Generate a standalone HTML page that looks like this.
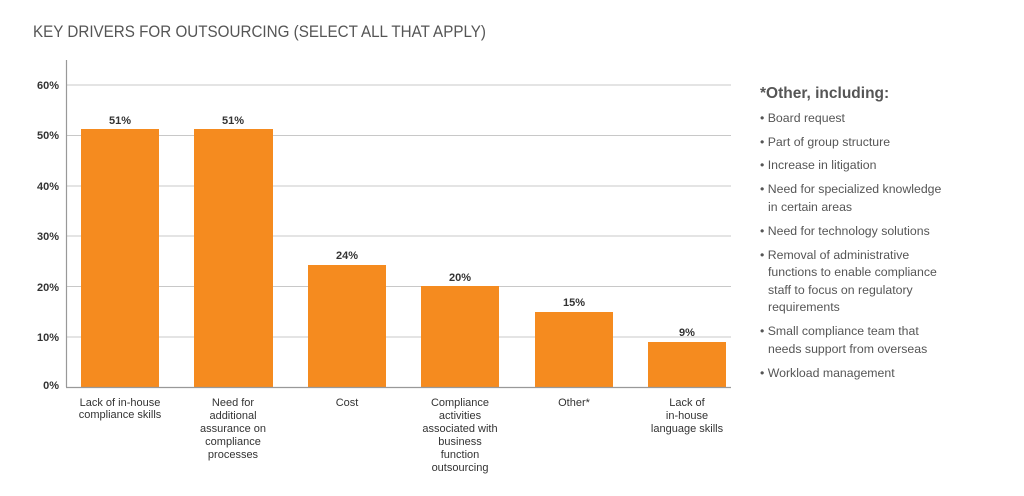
<!DOCTYPE html>
<html><head><style>
body{margin:0;background:#fff;}
svg text{font-family:"Liberation Sans",sans-serif;}
</style></head><body>
<svg width="1024" height="491" xmlns="http://www.w3.org/2000/svg">
<text x="33" y="37" font-size="16.5" fill="#555" textLength="453" lengthAdjust="spacingAndGlyphs">KEY DRIVERS FOR OUTSOURCING (SELECT ALL THAT APPLY)</text>
<g stroke="#c8c8c8" stroke-width="1">
<line x1="66" y1="85" x2="731" y2="85"/>
<line x1="66" y1="135.5" x2="731" y2="135.5"/>
<line x1="66" y1="186" x2="731" y2="186"/>
<line x1="66" y1="236" x2="731" y2="236"/>
<line x1="66" y1="286.5" x2="731" y2="286.5"/>
<line x1="66" y1="337" x2="731" y2="337"/>
</g>
<g fill="#F58B1F">
<rect x="81" y="129" width="78" height="258"/>
<rect x="194" y="129" width="79" height="258"/>
<rect x="308" y="265" width="78" height="122"/>
<rect x="421" y="286" width="78" height="101"/>
<rect x="535" y="312" width="78" height="75"/>
<rect x="648" y="342" width="78" height="45"/>
</g>
<line x1="66.5" y1="60" x2="66.5" y2="387" stroke="#999" stroke-width="1.2"/>
<line x1="66" y1="387.5" x2="731" y2="387.5" stroke="#999" stroke-width="1.2"/>
<g font-size="11" font-weight="bold" fill="#333" text-anchor="end">
<text x="59" y="89">60%</text><text x="59" y="139">50%</text><text x="59" y="190">40%</text>
<text x="59" y="240">30%</text><text x="59" y="291">20%</text><text x="59" y="341">10%</text>
<text x="59" y="389">0%</text>
</g>
<g font-size="11" font-weight="bold" fill="#333" text-anchor="middle">
<text x="120" y="124">51%</text><text x="233" y="124">51%</text><text x="347" y="259">24%</text>
<text x="460" y="281">20%</text><text x="574" y="306">15%</text><text x="687" y="336">9%</text>
</g>
<g font-size="11" fill="#333" text-anchor="middle">
<text x="120" y="406">Lack of in-house</text><text x="120" y="418">compliance skills</text>
<text x="233" y="406">Need for</text><text x="233" y="419">additional</text><text x="233" y="432">assurance on</text><text x="233" y="445">compliance</text><text x="233" y="458">processes</text>
<text x="347" y="406">Cost</text>
<text x="460" y="406">Compliance</text><text x="460" y="419">activities</text><text x="460" y="432">associated with</text><text x="460" y="445">business</text><text x="460" y="458">function</text><text x="460" y="471">outsourcing</text>
<text x="574" y="406">Other*</text>
<text x="687" y="406">Lack of</text><text x="687" y="419">in-house</text><text x="687" y="432">language skills</text>
</g>
<text x="760" y="98" font-size="15.5" font-weight="bold" fill="#555">*Other, including:</text>
<g font-size="12.3" fill="#555">
<text x="760" y="122">• Board request</text>
<text x="760" y="146">• Part of group structure</text>
<text x="760" y="169">• Increase in litigation</text>
<text x="760" y="193">• Need for specialized knowledge</text>
<text x="768" y="211">in certain areas</text>
<text x="760" y="235">• Need for technology solutions</text>
<text x="760" y="259">• Removal of administrative</text>
<text x="768" y="276">functions to enable compliance</text>
<text x="768" y="294">staff to focus on regulatory</text>
<text x="768" y="311">requirements</text>
<text x="760" y="335">• Small compliance team that</text>
<text x="768" y="353">needs support from overseas</text>
<text x="760" y="377">• Workload management</text>
</g>
</svg>
</body></html>
